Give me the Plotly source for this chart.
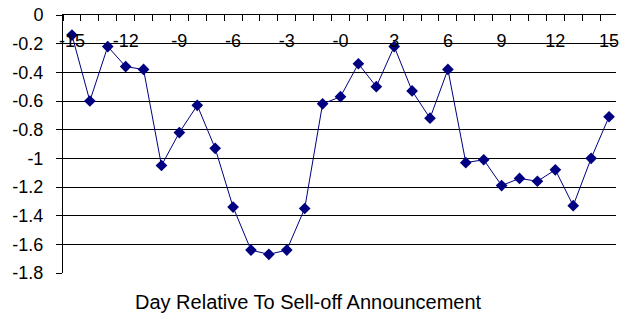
import plotly.graph_objects as go

# Average abnormal return by day around the sell-off announcement
days = list(range(-15, 16))
returns = [-0.14, -0.60, -0.22, -0.36, -0.38, -1.05, -0.82, -0.63, -0.93, -1.34,
           -1.64, -1.67, -1.64, -1.35, -0.62, -0.57, -0.34, -0.50, -0.22, -0.53,
           -0.72, -0.38, -1.03, -1.01, -1.19, -1.14, -1.16, -1.08, -1.33, -1.00, -0.71]

x_tick_vals = [-15, -12, -9, -6, -3, 0, 3, 6, 9, 12, 15]
x_tick_text = ['-15', '-12', '-9', '-6', '-3', '-0', '3', '6', '9', '12', '15']
y_tick_vals = [0, -0.2, -0.4, -0.6, -0.8, -1.0, -1.2, -1.4, -1.6, -1.8]
y_tick_text = ['0', '-0.2', '-0.4', '-0.6', '-0.8', '-1', '-1.2', '-1.4', '-1.6', '-1.8']

FONT = "Liberation Sans, Arial, sans-serif"
TICK_FONT = dict(family=FONT, size=18, color="black")

fig = go.Figure()
fig.add_trace(go.Scatter(
    x=days, y=returns, mode="lines+markers",
    line=dict(color="#000080", width=1),
    marker=dict(symbol="diamond", size=9, color="#000080"),
    cliponaxis=False, showlegend=False,
))

W, H = 619, 326
left, top = 63, 14.5
plot_h = 258.5
plot_w = W - left
px_per_day = 18
x_range = [-15.5, -15.5 + plot_w / px_per_day]

# the label axis sits a little below the category axis line
label_axis_px = 13.5
fig.update_layout(
    width=W, height=H,
    margin=dict(l=left, r=0, t=top, b=H - top - plot_h, pad=0),
    paper_bgcolor="white", plot_bgcolor="white",
    font=dict(family=FONT, size=16, color="black"),
    xaxis=dict(
        side="top",
        range=x_range,
        showticklabels=False, ticks="",
        minor=dict(tick0=-15.5, dtick=1, ticks="inside", ticklen=6,
                   tickcolor="black", tickwidth=1, showgrid=False),
        showgrid=False, zeroline=False,
        showline=True, linecolor="black", linewidth=1,
    ),
    xaxis2=dict(
        overlaying="x", matches="x", anchor="free", side="bottom",
        position=1 - label_axis_px / plot_h,
        tickvals=x_tick_vals, ticktext=x_tick_text,
        ticks="", tickfont=TICK_FONT, ticklabeloverflow="allow",
        showgrid=False, zeroline=False, showline=False,
    ),
    yaxis=dict(
        range=[-1.8, 0],
        tickvals=y_tick_vals, ticktext=y_tick_text,
        ticks="outside", ticklen=6, tickcolor="black",
        tickfont=TICK_FONT, ticklabelstandoff=9,
        showgrid=True, gridcolor="black", gridwidth=1,
        zeroline=False,
        showline=True, linecolor="black", linewidth=1,
    ),
    annotations=[dict(
        text="Day Relative To Sell-off Announcement",
        xref="paper", yref="paper", x=(310 - left) / plot_w, y=0,
        yshift=-29, xanchor="center", yanchor="middle", showarrow=False,
        font=dict(family=FONT, size=20, color="black"),
    )],
)

# invisible companion trace so the label axis is drawn
fig.add_trace(go.Scatter(x=[days[0]], y=[returns[0]], xaxis="x2", mode="markers",
                         marker=dict(opacity=0), hoverinfo="skip", showlegend=False))

fig.write_html("out.html")
